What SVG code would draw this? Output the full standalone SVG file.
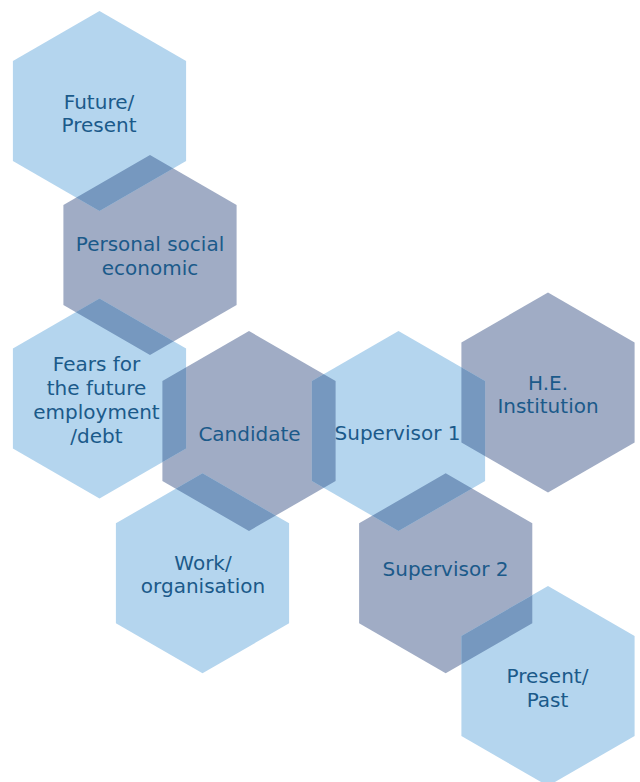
<svg xmlns="http://www.w3.org/2000/svg" width="640" height="782" viewBox="0 0 640 782">
  <style>
    .blue { fill: #b4d5ee; }
    .gray { fill: #a0acc5; }
    .ovl { fill: #7698bf; }
    .lbl { font-family: "DejaVu Sans", "Liberation Sans", sans-serif; font-size: 20px; fill: #1b5a8a; text-anchor: middle; }
  </style>
  <defs>
    <clipPath id="grayClip" clipPathUnits="userSpaceOnUse">
      <polygon points="150,155 236.6,205 236.6,305 150,355 63.4,305 63.4,205"/>
      <polygon points="249,331 335.6,381 335.6,481 249,531 162.4,481 162.4,381"/>
      <polygon points="548,292.5 634.6,342.5 634.6,442.5 548,492.5 461.4,442.5 461.4,342.5"/>
      <polygon points="445.7,473.3 532.3,523.3 532.3,623.3 445.7,673.3 359.1,623.3 359.1,523.3"/>
    </clipPath>
  </defs>
  <rect width="640" height="782" fill="#ffffff"/>
  <g id="connectors"/>

  <g id="node-personal">
    <polygon class="gray" points="150,155 236.6,205 236.6,305 150,355 63.4,305 63.4,205"/>
    <text class="lbl" x="150" y="251">Personal social</text>
    <text class="lbl" x="150" y="274.5">economic</text>
  </g>
  <g id="node-candidate">
    <polygon class="gray" points="249,331 335.6,381 335.6,481 249,531 162.4,481 162.4,381"/>
    <text class="lbl" x="249.5" y="440.5">Candidate</text>
  </g>
  <g id="node-he">
    <polygon class="gray" points="548,292.5 634.6,342.5 634.6,442.5 548,492.5 461.4,442.5 461.4,342.5"/>
    <text class="lbl" x="548" y="389.5">H.E.</text>
    <text class="lbl" x="548" y="412.8">Institution</text>
  </g>
  <g id="node-supervisor2">
    <polygon class="gray" points="445.7,473.3 532.3,523.3 532.3,623.3 445.7,673.3 359.1,623.3 359.1,523.3"/>
    <text class="lbl" x="445.5" y="576">Supervisor 2</text>
  </g>

  <g id="node-future">
    <polygon class="blue" points="99.5,11 186.1,61 186.1,161 99.5,211 12.9,161 12.9,61"/>
    <polygon class="ovl" clip-path="url(#grayClip)" points="99.5,11 186.1,61 186.1,161 99.5,211 12.9,161 12.9,61"/>
    <text class="lbl" x="99" y="108.5">Future/</text>
    <text class="lbl" x="99" y="131.8">Present</text>
  </g>
  <g id="node-fears">
    <polygon class="blue" points="99.5,298.5 186.1,348.5 186.1,448.5 99.5,498.5 12.9,448.5 12.9,348.5"/>
    <polygon class="ovl" clip-path="url(#grayClip)" points="99.5,298.5 186.1,348.5 186.1,448.5 99.5,498.5 12.9,448.5 12.9,348.5"/>
    <text class="lbl" x="96.5" y="371">Fears for</text>
    <text class="lbl" x="96.5" y="394.5">the future</text>
    <text class="lbl" x="96.5" y="419">employment</text>
    <text class="lbl" x="96.5" y="442.7">/debt</text>
  </g>
  <g id="node-supervisor1">
    <polygon class="blue" points="398.5,331 485.1,381 485.1,481 398.5,531 311.9,481 311.9,381"/>
    <polygon class="ovl" clip-path="url(#grayClip)" points="398.5,331 485.1,381 485.1,481 398.5,531 311.9,481 311.9,381"/>
    <text class="lbl" x="397.5" y="440">Supervisor 1</text>
  </g>
  <g id="node-work">
    <polygon class="blue" points="202.5,473.3 289.1,523.3 289.1,623.3 202.5,673.3 115.9,623.3 115.9,523.3"/>
    <polygon class="ovl" clip-path="url(#grayClip)" points="202.5,473.3 289.1,523.3 289.1,623.3 202.5,673.3 115.9,623.3 115.9,523.3"/>
    <text class="lbl" x="203" y="570">Work/</text>
    <text class="lbl" x="203" y="593.3">organisation</text>
  </g>
  <g id="node-present-past">
    <polygon class="blue" points="548,586 634.6,636 634.6,736 548,786 461.4,736 461.4,636"/>
    <polygon class="ovl" clip-path="url(#grayClip)" points="548,586 634.6,636 634.6,736 548,786 461.4,736 461.4,636"/>
    <text class="lbl" x="547.5" y="682.7">Present/</text>
    <text class="lbl" x="547.5" y="706.7">Past</text>
  </g>
</svg>
